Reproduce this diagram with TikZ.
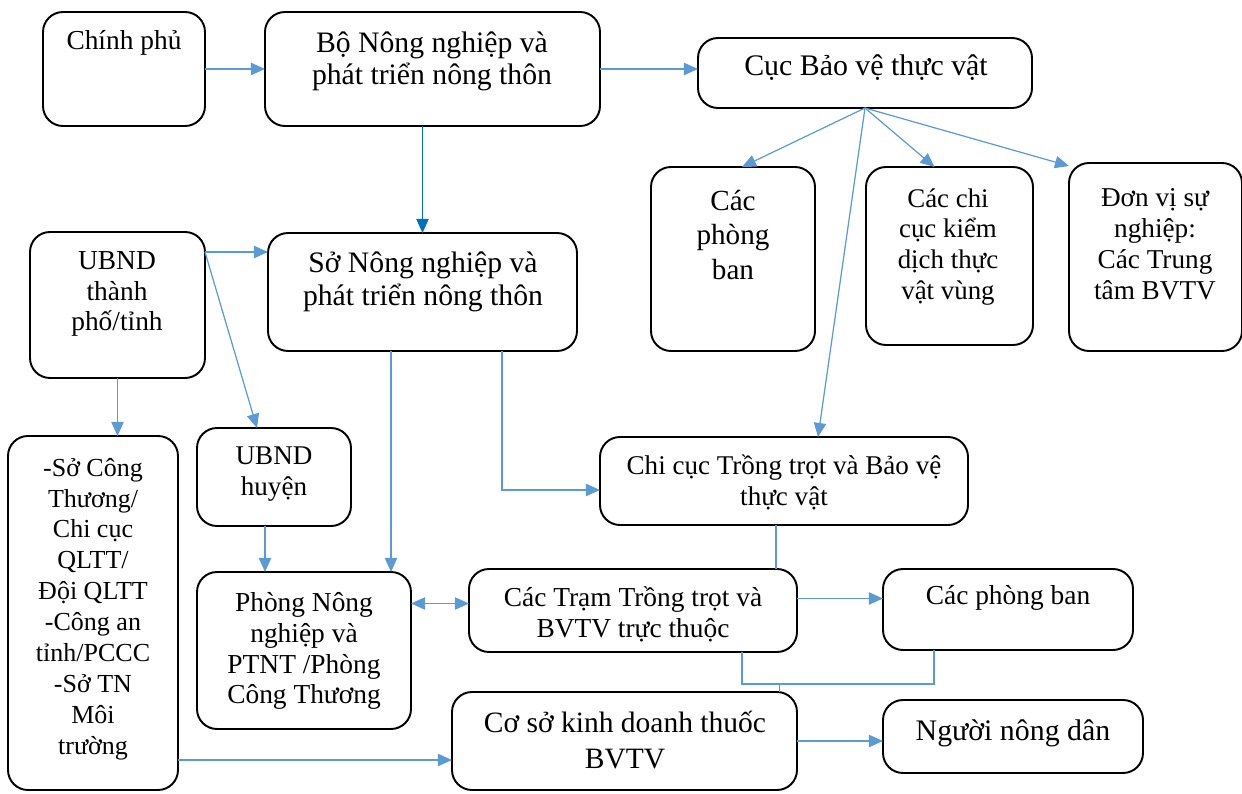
\documentclass[tikz,border=0pt]{standalone}
\usepackage{fontspec}
\setmainfont{Liberation Serif}
\usetikzlibrary{arrows.meta,calc}
\definecolor{ln}{RGB}{91,155,213}
\definecolor{lnd}{RGB}{0,112,192}
\newcommand\mybox[5]{\node[boxst, minimum width={(#4-#2)*0.02cm}, minimum height={(#5-#3)*0.02cm}] (#1) at ({(#2+#4)/2},{(#3+#5)/2}) {};}
\tikzset{
  boxst/.style={draw=black, line width=1.1pt, rounded corners=0.4cm, inner sep=0pt, outer sep=0pt},
  txt/.style={align=center, inner sep=0pt, font=\fontsize{#1}{17.6}\selectfont},
  txt/.default=15.5,
  lnk/.style={draw=ln, line width=0.7pt},
  arr/.style={lnk, -{Triangle[length=8pt, width=7pt]}},
}
\begin{document}
\begin{tikzpicture}[x=0.02cm, y=-0.02cm]
\useasboundingbox (0,0) rectangle (1242,794);
% boxes
\mybox{cp}{43}{12}{205}{126}
\mybox{bo}{265}{12}{600}{126}
\mybox{cuc}{698}{38}{1032}{108}
\mybox{pb}{651}{167}{815}{351}
\mybox{ck}{866}{167}{1033}{345}
\mybox{dv}{1069}{163}{1242}{351}
\mybox{tinh}{30}{232}{205}{378}
\mybox{so}{268}{233}{577}{351}
\mybox{huyen}{197}{428}{351}{526}
\mybox{sct}{8}{436}{178}{790}
\mybox{cctt}{600}{437}{968}{525}
\mybox{pnn}{197}{572}{411}{729}
\mybox{tram}{469}{569}{797}{652}
\mybox{pbb}{883}{569}{1133}{650}
\mybox{coso}{452}{692}{797}{790}
\mybox{nd}{883}{700}{1143}{773}
% texts
\node[txt=15.6] (cp-t) at (124,43) {Chính phủ};
\node[txt=16.9, font=\fontsize{16.9}{18.1}\selectfont] (bo-t) at (432,61) {Bộ Nông nghiệp và\\phát triển nông thôn};
\node[txt=17] (cuc-t) at (866,68) {Cục Bảo vệ thực vật};
\node[txt, font=\fontsize{16.6}{19.6}\selectfont] (pb-t) at (733,235) {Các\\phòng\\ban};
\node[txt=15.3] (ck-t) at (948,247) {Các chi\\cục kiểm\\dịch thực\\vật vùng};
\node[txt=15.5] (dv-t) at (1155,244) {Đơn vị sự\\nghiệp:\\Các Trung\\tâm BVTV};
\node[txt=15.6] (tinh-t) at (117,294) {UBND\\thành\\phố/tỉnh};
\node[txt=16.9, font=\fontsize{16.9}{19}\selectfont] (so-t) at (423,282) {Sở Nông nghiệp và\\phát triển nông thôn};
\node[txt=15.4] (huyen-t) at (274,474) {UBND\\huyện};
\node[txt=14.8] (sct-t) at (93,609) {-Sở Công\\Thương/\\Chi cục\\QLTT/\\Đội QLTT\\-Công an\\tỉnh/PCCC\\-Sở TN\\Môi\\trường};
\node[txt=15.4] (cctt-t) at (784,482) {Chi cục Trồng trọt và Bảo vệ\\thực vật};
\node[txt=15.6] (pnn-t) at (304,651) {Phòng Nông\\nghiệp và\\PTNT /Phòng\\Công Thương};
\node[txt=15.6] (tram-t) at (633,614) {Các Trạm Trồng trọt và\\BVTV trực thuộc};
\node[txt=15.6] (pbb-t) at (1008,598) {Các phòng ban};
\node[txt=16.8, font=\fontsize{16.8}{20}\selectfont] (coso-t) at (625,740) {Cơ sở kinh doanh thuốc\\BVTV};
\node[txt=17] (nd-t) at (1013,733) {Người nông dân};
% connectors
\draw[arr] (cp.east) -- (bo.west);
\draw[arr] (bo.east) -- (bo.east -| cuc.west);
\draw[arr, draw=lnd, -{Triangle[length=8pt, width=7pt, fill=lnd]}] (so.north |- bo.south) -- (so.north);
\coordinate (tA) at ($(tinh.north east)+(0,20)$);
\draw[arr] (tA) -- (tA -| so.west);
\draw[arr] (tA) -- ($(huyen.north)+(-17,0)$);
\draw[arr] (tinh.south) -- (tinh.south |- sct.north);
\draw[arr] (cuc.south) -- ($(pb.north)+(9,0)$);
\draw[arr] (cuc.south) -- ($(ck.north)+(-15,0)$);
\draw[arr] (cuc.south) -- ($(dv.north west)+(0,3)$);
\draw[arr] (cuc.south) -- ($(cctt.north)+(34,0)$);
\coordinate (sA) at ($(so.south west)+(123,0)$);
\draw[arr] (sA) -- (sA |- pnn.north);
\coordinate (sB) at ($(so.south west)+(234,0)$);
\coordinate (cB) at ($(cctt.west)+(0,9)$);
\draw[arr] (sB) |- (cB);
\coordinate (hA) at ($(huyen.south)+(-9,0)$);
\draw[arr] (hA) -- (hA |- pnn.north);
\coordinate (tW) at ($(tram.west)+(0,-7)$);
\draw[lnk, {Triangle[length=8pt, width=7pt]}-{Triangle[length=8pt, width=7pt]}] (tW -| pnn.east) -- (tW);
\coordinate (cS) at ($(cctt.south)+(-8,0)$);
\draw[lnk] (cS) -- (cS |- tram.north);
\coordinate (tE) at ($(tram.east)+(0,-12)$);
\draw[arr] (tE) -- (tE -| pbb.west);
\coordinate (j) at ($(coso.north)+(155,-8)$);
\coordinate (tS) at ($(tram.south)+(109,0)$);
\coordinate (pS) at ($(pbb.south)+(-74,0)$);
\draw[lnk] (tS) |- (j) -| (pS);
\draw[lnk] (j) -- (j |- coso.north);
\coordinate (scE) at ($(sct.south east)+(0,-30)$);
\draw[arr] (scE) -- (scE -| coso.west);
\draw[arr] (coso.east) -- (coso.east -| nd.west);
\end{tikzpicture}
\end{document}
